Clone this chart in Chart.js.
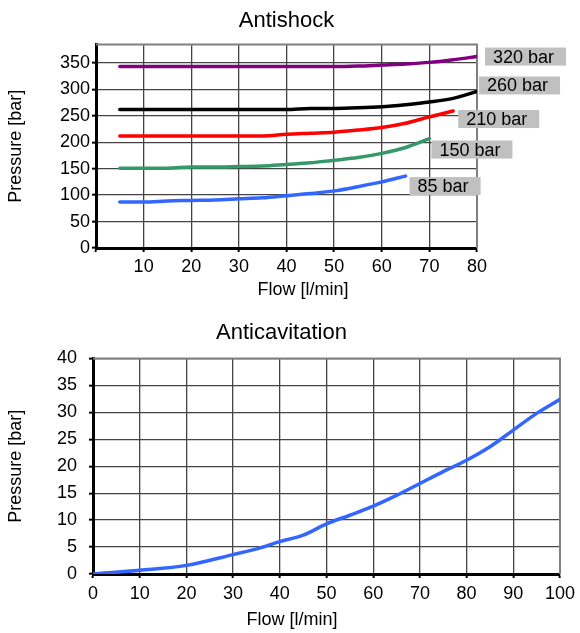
<!DOCTYPE html>
<html>
<head>
<meta charset="utf-8">
<script src="https://cdn.jsdelivr.net/npm/chart.js@4.4.0/dist/chart.umd.min.js"></script>
<style>
  body { margin: 0; background: #fff; }
  #wrap { position: relative; width: 580px; height: 633px; }
  canvas { position: absolute; left: 0; }
  #shockChart { top: 0; }
  #cavChart { top: 310px; }
</style>
</head>
<body>
<div id="wrap">
  <canvas id="shockChart" width="580" height="305"></canvas>
  <canvas id="cavChart" width="580" height="323"></canvas>
</div>
<script>
// Antishock data
const shockFlow = [5, 10, 15, 20, 25, 30, 35, 40, 45, 50, 55, 60, 65, 70, 75, 80];
const p320 = [343, 343, 343, 343, 343, 343, 343, 343, 343, 343, 344, 346, 348, 351, 356, 362];
const p260 = [262, 262, 262, 262, 262, 262, 262, 262, 264, 264, 265, 267, 271, 276, 283, 296];
const p210 = [212, 212, 212, 212, 212, 212, 212, 215, 217, 219, 223, 228, 236, 248, 259];
const p150 = [151, 151, 151, 153, 153, 154, 155, 158, 161, 166, 171, 179, 190, 207];
const p85 = [87, 87, 89, 90, 91, 93, 95, 99, 103, 108, 116, 125, 136];
const shockNames = ["320 bar", "260 bar", "210 bar", "150 bar", "85 bar"];

// Anticavitation data
const cavFlow = [0, 10, 20, 30, 36, 40, 45, 50, 55, 60, 65, 70, 75, 80, 85, 90, 95, 100];
const cavPressure = [0, 0.7, 1.6, 3.6, 4.9, 6.0, 7.2, 9.3, 10.9, 12.6, 14.6, 16.8, 19.0, 21.1, 23.6, 26.7, 29.8, 32.4];

const FONT = "'Liberation Sans', Arial, sans-serif";

function pts(xs, ys) {
    return ys.map((y, i) => ({ x: xs[i], y: y }));
}

// gray top/right edge of the plot area
const frame = {
    id: "frame",
    beforeDatasetsDraw(chart) {
        const a = chart.chartArea;
        const ctx = chart.ctx;
        ctx.save();
        ctx.strokeStyle = "#808080";
        ctx.lineWidth = 2;
        ctx.beginPath();
        ctx.moveTo(a.left, a.top);
        ctx.lineTo(a.right, a.top);
        ctx.lineTo(a.right, a.bottom);
        ctx.stroke();
        ctx.restore();
    }
};

// x axis title drawn at a fixed spot
const xTitle = {
    id: "xTitle",
    afterDraw(chart, args, opts) {
        const ctx = chart.ctx;
        ctx.save();
        ctx.font = "18px " + FONT;
        ctx.fillStyle = "#000";
        ctx.textAlign = "center";
        ctx.textBaseline = "middle";
        ctx.fillText(opts.text, opts.x, opts.y);
        ctx.restore();
    }
};

// gray boxes with the setting names at the line ends
const endLabels = {
    id: "endLabels",
    afterDatasetsDraw(chart, args, opts) {
        const ctx = chart.ctx;
        ctx.save();
        ctx.font = "18px " + FONT;
        ctx.textBaseline = "middle";
        opts.names.forEach((name, i) => {
            const meta = chart.getDatasetMeta(i);
            const last = meta.data[meta.data.length - 1];
            const off = opts.offsets[i];
            const x = last.x + off[0];
            const y = last.y + off[1];
            const w = ctx.measureText(name).width + 20;
            ctx.fillStyle = "#c0c0c0";
            ctx.fillRect(x, y - 9, w, 18);
            ctx.fillStyle = "#000";
            ctx.fillText(name, x + 8, y + 1);
        });
        ctx.restore();
    }
};

function lineSet(data, color) {
    return {
        data: data,
        borderColor: color,
        borderWidth: 3.5,
        borderCapStyle: "round",
        pointRadius: 0,
        fill: false,
        cubicInterpolationMode: "monotone"
    };
}

const gridStyle = {
    color: "#444",
    lineWidth: 1.3,
    tickColor: "#000",
    tickLength: 4,
    tickWidth: 2
};

// Antishock

new Chart(document.getElementById("shockChart"), {
    type: "line",
    data: {
        datasets: [
            lineSet(pts(shockFlow, p320), "#800080"),
            lineSet(pts(shockFlow, p260), "#000000"),
            lineSet(pts(shockFlow, p210), "#ff0000"),
            lineSet(pts(shockFlow, p150), "#339966"),
            lineSet(pts(shockFlow, p85), "#3366ff")
        ]
    },
    options: {
        responsive: false,
        animation: false,
        layout: { padding: { left: 0, right: 103, top: 0, bottom: 0 } },
        plugins: {
            legend: { display: false },
            tooltip: { enabled: false },
            title: {
                display: true,
                text: "Antishock",
                color: "#000",
                font: { family: FONT, size: 22, weight: "normal" },
                padding: { top: 8, bottom: 10 },
                fullSize: false
            },
            xTitle: { text: "Flow [l/min]", x: 303, y: 290 },
            endLabels: {
                names: shockNames,
                offsets: [[8, 0], [2, -6], [5, 8], [2, 11], [4, 10]]
            }
        },
        scales: {
            x: {
                type: "linear",
                min: 0,
                max: 80,
                ticks: {
                    stepSize: 10,
                    color: "#000",
                    font: { family: FONT, size: 18 },
                    padding: 4,
                    maxRotation: 0,
                    callback: v => v === 0 ? "" : v
                },
                grid: gridStyle,
                border: { color: "#000", width: 3 },
                afterFit: s => { s.height = 57; }
            },
            y: {
                min: 0,
                max: 385,
                ticks: {
                    stepSize: 50,
                    includeBounds: false,
                    color: "#000",
                    font: { family: FONT, size: 18 },
                    padding: 2
                },
                grid: gridStyle,
                border: { color: "#000", width: 3 },
                title: {
                    display: true,
                    text: "Pressure [bar]",
                    color: "#000",
                    font: { family: FONT, size: 18 },
                    padding: { top: 5, bottom: 0 }
                },
                afterFit: s => { s.width = 96; }
            }
        }
    },
    plugins: [frame, xTitle, endLabels]
});

// Anticavitation

new Chart(document.getElementById("cavChart"), {
    type: "line",
    data: {
        datasets: [
            lineSet(pts(cavFlow, cavPressure), "#3366ff")
        ]
    },
    options: {
        responsive: false,
        animation: false,
        layout: { padding: { left: 0, right: 17, top: 0, bottom: 0 } },
        plugins: {
            legend: { display: false },
            tooltip: { enabled: false },
            title: {
                display: true,
                text: "Anticavitation",
                color: "#000",
                font: { family: FONT, size: 22, weight: "normal" },
                padding: { top: 10, bottom: 12 }
            },
            xTitle: { text: "Flow [l/min]", x: 292, y: 310 }
        },
        scales: {
            x: {
                type: "linear",
                min: 0,
                max: 100,
                ticks: {
                    stepSize: 10,
                    color: "#000",
                    font: { family: FONT, size: 18 },
                    padding: 5,
                    maxRotation: 0
                },
                grid: gridStyle,
                border: { color: "#000", width: 3 },
                afterFit: s => { s.height = 59; }
            },
            y: {
                min: 0,
                max: 40,
                ticks: {
                    stepSize: 5,
                    color: "#000",
                    font: { family: FONT, size: 18 },
                    padding: 12
                },
                grid: gridStyle,
                border: { color: "#000", width: 3 },
                title: {
                    display: true,
                    text: "Pressure [bar]",
                    color: "#000",
                    font: { family: FONT, size: 18 },
                    padding: { top: 5, bottom: 0 }
                },
                afterFit: s => { s.width = 93; }
            }
        }
    },
    plugins: [frame, xTitle]
});
</script>
</body>
</html>
